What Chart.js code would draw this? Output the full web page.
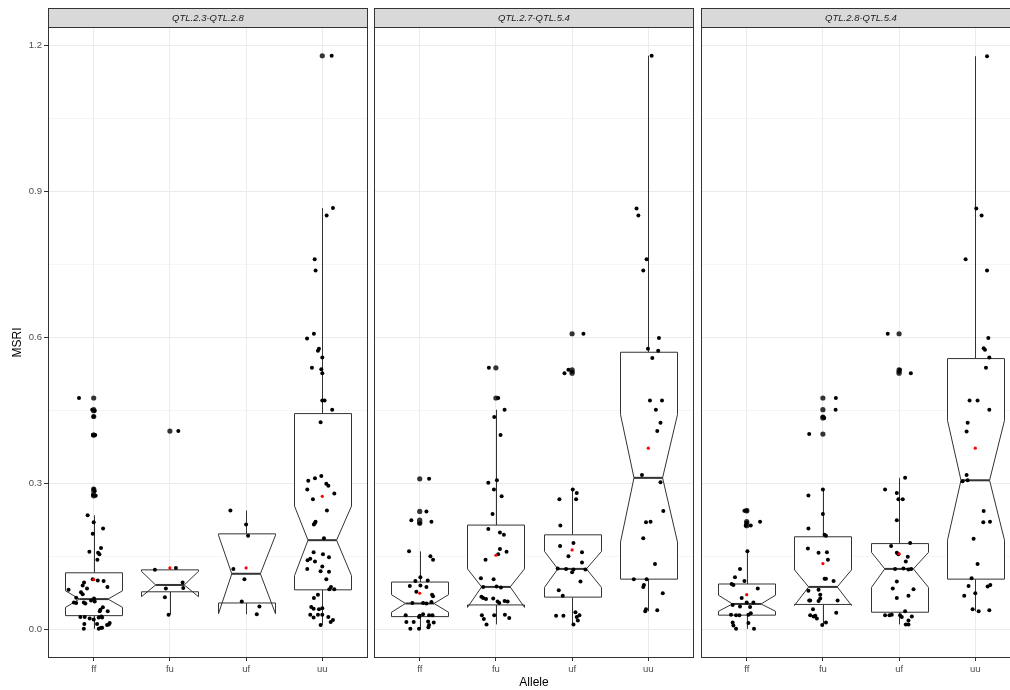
<!DOCTYPE html>
<html>
<head>
<meta charset="utf-8">
<script src="https://cdn.jsdelivr.net/npm/chart.js@4.4.1/dist/chart.umd.min.js"></script>
<style>
  html, body { margin: 0; padding: 0; background: #fff; }
  #fig { position: relative; width: 1010px; height: 690px; overflow: hidden; background: #fff; }
  #fig canvas { position: absolute; top: 0; }
</style>
</head>
<body>
<div id="fig">
  <canvas id="facet0"></canvas>
  <canvas id="facet1"></canvas>
  <canvas id="facet2"></canvas>
</div>
<script>
// ---- data -------------------------------------------------------------
const alleles = ['ff', 'fu', 'uf', 'uu'];
const facets = ['QTL.2.3-QTL.2.8', 'QTL.2.7-QTL.5.4', 'QTL.2.8-QTL.5.4'];
const yTicks = [0.0, 0.3, 0.6, 0.9, 1.2];

// notched box statistics: one row per facet, columns follow `alleles`
const whiskerLow  = [[0.002, 0.031, 0.032, 0.010], [0.002, 0.011, 0.011, 0.038], [0.002, 0.010, 0.011, 0.038]];
const lowerHinge  = [[0.029, 0.078, 0.055, 0.082], [0.027, 0.051, 0.067, 0.104], [0.030, 0.052, 0.036, 0.104]];
const medians     = [[0.063, 0.092, 0.115, 0.184], [0.054, 0.088, 0.125, 0.312], [0.053, 0.088, 0.125, 0.307]];
const upperHinge  = [[0.117, 0.123, 0.197, 0.444], [0.098, 0.215, 0.195, 0.570], [0.094, 0.191, 0.177, 0.557]];
const whiskerHigh = [[0.235, 0.127, 0.245, 0.866], [0.161, 0.452, 0.288, 1.179], [0.161, 0.289, 0.312, 1.178]];
const notchLow    = [[0.046, 0.068, 0.033, 0.111], [0.036, 0.046, 0.087, 0.180], [0.038, 0.050, 0.087, 0.184]];
const notchHigh   = [[0.080, 0.120, 0.194, 0.254], [0.072, 0.125, 0.161, 0.442], [0.071, 0.123, 0.159, 0.430]];
const means       = [[0.103, 0.127, 0.127, 0.274], [0.075, 0.153, 0.164, 0.373], [0.072, 0.136, 0.156, 0.373]];

// individual MSRI observations per allele, and their horizontal jitter (category units)
const valuesA = [
  [0.476,0.452,0.450,0.438,0.400,0.400,0.289,0.285,0.277,0.275,0.235,0.221,0.208,0.197,0.168,0.160,0.158,0.155,0.144,0.104,0.101,0.100,0.097,0.091,0.088,0.085,0.082,0.077,0.073,0.066,0.064,0.060,0.058,0.056,0.055,0.056,0.054,0.046,0.041,0.038,0.038,0.026,0.026,0.023,0.021,0.025,0.025,0.027,0.012,0.012,0.010,0.014,0.011,0.004,0.002,0.002,0.004],
  [0.408,0.127,0.123,0.097,0.086,0.085,0.067,0.031],
  [0.245,0.216,0.193,0.125,0.104,0.058,0.048,0.032],
  [1.179,0.866,0.851,0.761,0.738,0.608,0.598,0.577,0.573,0.559,0.538,0.535,0.527,0.471,0.471,0.452,0.426,0.316,0.311,0.306,0.300,0.296,0.288,0.280,0.268,0.245,0.222,0.219,0.216,0.188,0.159,0.155,0.149,0.146,0.143,0.140,0.130,0.125,0.120,0.119,0.104,0.088,0.083,0.083,0.072,0.065,0.047,0.043,0.044,0.042,0.031,0.025,0.031,0.031,0.026,0.020,0.016,0.010]
];
const jitterA = [
  [-0.193,-0.02,0.013,0,-0.01,0.02,0,0.013,-0.01,0.026,-0.08,0,0.123,-0.013,0.096,-0.057,0.057,0.075,0.048,-0.013,0.053,0.13,-0.127,-0.145,0.18,-0.088,-0.33,-0.167,-0.145,-0.23,0.004,-0.035,0.013,-0.26,-0.23,-0.13,-0.11,0.12,0.088,0.079,0.184,-0.175,-0.118,-0.053,0,0.066,0.11,0.1,-0.123,0.044,0.175,0.21,0.197,0.11,-0.13,0.066,0.096],
  [0.11,0.079,-0.197,0.167,0.175,-0.053,-0.066,-0.018],
  [-0.206,0,0.026,-0.167,-0.022,-0.057,0.175,0.14],
  [0.123,0.14,0.057,-0.10,-0.088,-0.11,-0.2,-0.044,-0.057,0,-0.136,-0.013,0,0,0.03,0.13,-0.022,-0.013,-0.096,-0.184,0.053,0.079,-0.197,0.158,-0.123,0.061,-0.088,-0.1,-0.11,0.022,-0.114,0.009,0.088,-0.158,-0.193,-0.096,0,-0.197,-0.022,0.088,0.053,0.114,0.092,0.158,-0.057,-0.11,-0.145,-0.114,0,-0.044,-0.158,-0.114,-0.057,0,0.079,0.14,0.11,-0.022]
];
const valuesB = [
  [0.310,0.243,0.225,0.222,0.219,0.161,0.151,0.144,0.108,0.100,0.101,0.090,0.091,0.088,0.072,0.069,0.078,0.055,0.055,0.054,0.057,0.030,0.029,0.032,0.030,0.030,0.026,0.016,0.016,0.017,0.015,0.010,0.002,0.002,0.005],
  [0.538,0.476,0.452,0.437,0.400,0.307,0.302,0.288,0.274,0.238,0.207,0.200,0.195,0.166,0.160,0.155,0.144,0.106,0.104,0.088,0.089,0.087,0.068,0.065,0.063,0.064,0.058,0.059,0.058,0.055,0.030,0.022,0.011,0.030,0.031,0.024],
  [0.608,0.534,0.527,0.530,0.288,0.281,0.268,0.268,0.214,0.178,0.172,0.159,0.151,0.138,0.126,0.125,0.124,0.124,0.118,0.099,0.081,0.070,0.029,0.029,0.036,0.030,0.026,0.019,0.011],
  [1.179,0.865,0.851,0.761,0.738,0.599,0.577,0.573,0.558,0.471,0.471,0.452,0.425,0.408,0.318,0.303,0.244,0.221,0.222,0.188,0.135,0.104,0.104,0.092,0.088,0.075,0.042,0.038,0.040]
];
const jitterB = [
  [0.123,0.088,-0.11,0.154,0,-0.14,0.14,0.175,0.009,-0.057,0.105,-0.13,0.009,0.088,0.162,0.175,-0.044,-0.096,0.044,0.088,0.154,-0.184,0,0.044,0.123,0.167,-0.009,-0.175,-0.079,0.11,0.184,0.123,-0.123,-0.009,0.114],
  [-0.092,0.03,0.114,-0.022,0.061,0.013,-0.1,-0.026,0.075,-0.044,-0.1,0.053,0.105,0.053,0.14,0.03,-0.136,-0.197,-0.03,-0.167,0.009,0.066,-0.19,-0.167,-0.13,-0.035,0.022,0.114,0.154,0.044,-0.184,-0.158,-0.123,-0.022,0.118,0.175],
  [0.149,-0.048,-0.1,0,0.009,0.061,-0.167,0.053,-0.154,0.018,-0.158,0.13,-0.048,0.13,-0.189,-0.079,0.175,0.018,0,0.11,-0.175,-0.123,-0.21,-0.114,0.044,0.096,0.061,0.075,0.018],
  [0.044,-0.154,-0.13,-0.022,-0.066,0.14,-0.004,0.13,0.053,0.022,0.18,0.1,0.16,0.118,-0.083,0.16,0.197,-0.03,0.03,-0.066,0.088,-0.19,-0.022,-0.057,-0.066,0.19,-0.03,-0.04,0.118]
];
const valuesC = [
  [0.2445,0.2445,0.222,0.220,0.214,0.214,0.161,0.125,0.108,0.100,0.094,0.092,0.085,0.065,0.051,0.048,0.056,0.056,0.047,0.031,0.030,0.030,0.031,0.034,0.015,0.009,0.014,0.002,0.002],
  [0.476,0.452,0.437,0.435,0.402,0.288,0.276,0.238,0.208,0.195,0.193,0.167,0.158,0.159,0.144,0.105,0.105,0.100,0.080,0.082,0.072,0.060,0.059,0.064,0.060,0.060,0.042,0.035,0.030,0.027,0.023,0.029,0.010,0.015],
  [0.608,0.530,0.527,0.534,0.312,0.288,0.281,0.268,0.268,0.225,0.178,0.172,0.158,0.155,0.150,0.140,0.125,0.126,0.124,0.125,0.099,0.085,0.083,0.070,0.065,0.038,0.030,0.030,0.031,0.030,0.026,0.019,0.027,0.011,0.011],
  [1.178,0.865,0.851,0.761,0.738,0.599,0.578,0.575,0.559,0.538,0.471,0.471,0.452,0.425,0.407,0.318,0.305,0.307,0.244,0.221,0.222,0.187,0.135,0.106,0.090,0.089,0.092,0.070,0.075,0.042,0.038,0.040]
];
const jitterC = [
  [-0.03,0,0.175,0,0.053,-0.013,0.009,-0.088,-0.154,-0.03,-0.197,-0.175,0.145,-0.066,-0.184,-0.088,0,0.088,0.044,-0.206,-0.14,-0.096,0.022,0.053,-0.184,-0.175,0.022,-0.14,0.096],
  [0.17,0.167,0,0.018,-0.18,0,-0.19,0,-0.19,0.022,0.04,-0.197,-0.057,0.053,0.066,0.022,0.04,0.14,-0.19,-0.057,-0.035,-0.167,-0.057,-0.035,-0.18,0.193,-0.13,0.175,-0.167,-0.123,-0.079,-0.1,-0.009,0.04],
  [-0.149,0,0.154,0.01,0.079,-0.184,-0.03,-0.009,0.048,-0.03,0.145,-0.105,-0.03,-0.009,0.114,0.088,-0.053,0.057,0.123,0.158,-0.03,-0.083,0.189,0.123,-0.03,0.079,-0.184,-0.127,-0.096,0.013,0.035,0.123,0.167,0.088,0.123],
  [0.154,0.013,0.083,-0.127,0.154,0.171,0.11,0.127,0.184,0.14,-0.075,0.03,0.184,-0.1,-0.114,-0.114,-0.167,-0.1,0.11,0.105,0.193,-0.022,0.03,-0.048,-0.088,0.162,0.197,-0.145,0,-0.035,0.044,0.184]
];

const facetValues = [valuesA, valuesB, valuesC];
const facetJitter = [jitterA, jitterB, jitterC];

// ---- appearance -------------------------------------------------------
const FONT = "'Liberation Sans', Arial, Helvetica, sans-serif";
const INK = '#333333';
const GRID = '#EBEBEB';
const BOX_HALF = 0.375;            // boxes are 0.75 category units wide
const NOTCH_INDENT = 0.1875;       // notch narrows the box to half its width
const Y_MIN = -0.058, Y_MAX = 1.238;
const X_MIN = 0.4, X_MAX = 4.6;

// panel geometry: plot-area left edge of each facet, shared width
const panelLeft = [48, 374, 701];
const PANEL_W = 320;
const PLOT_TOP = 27, STRIP_TOP = 8;
const X_AXIS_H = 32;

const minorTicks = yTicks.slice(1).map((v, i) => (v + yTicks[i]) / 2);
const isMajor = v => yTicks.some(t => Math.abs(t - v) < 1e-9);

Chart.defaults.font.family = FONT;

// draws whiskers, notched boxes and medians from the statistics arrays
const notchedBoxes = {
  id: 'notchedBoxes',
  beforeDatasetsDraw(chart, args, opts) {
    const f = opts.facet;
    const { ctx, chartArea: ca } = chart;
    const x = chart.scales.x, y = chart.scales.y;
    const crisp = v => Math.round(v) + 0.5;
    ctx.save();
    ctx.beginPath();
    ctx.rect(ca.left, ca.top, ca.right - ca.left, ca.bottom - ca.top);
    ctx.clip();
    ctx.strokeStyle = INK;
    ctx.lineJoin = 'miter';
    alleles.forEach((name, i) => {
      const c = i + 1;
      const xc = crisp(x.getPixelForValue(c));
      const xl = crisp(x.getPixelForValue(c - BOX_HALF));
      const xr = crisp(x.getPixelForValue(c + BOX_HALF));
      const nl = x.getPixelForValue(c - BOX_HALF + NOTCH_INDENT);
      const nr = x.getPixelForValue(c + BOX_HALF - NOTCH_INDENT);
      const yq1 = y.getPixelForValue(lowerHinge[f][i]);
      const yq3 = y.getPixelForValue(upperHinge[f][i]);
      const ymd = y.getPixelForValue(medians[f][i]);
      const ynl = y.getPixelForValue(notchLow[f][i]);
      const ynh = y.getPixelForValue(notchHigh[f][i]);
      const ywl = y.getPixelForValue(whiskerLow[f][i]);
      const ywh = y.getPixelForValue(whiskerHigh[f][i]);

      // whiskers
      ctx.lineWidth = 1;
      ctx.beginPath();
      ctx.moveTo(xc, yq3); ctx.lineTo(xc, ywh);
      ctx.moveTo(xc, yq1); ctx.lineTo(xc, ywl);
      ctx.stroke();

      // notched box
      ctx.beginPath();
      ctx.moveTo(xl, yq3);
      ctx.lineTo(xl, ynh);
      ctx.lineTo(nl, ymd);
      ctx.lineTo(xl, ynl);
      ctx.lineTo(xl, yq1);
      ctx.lineTo(xr, yq1);
      ctx.lineTo(xr, ynl);
      ctx.lineTo(nr, ymd);
      ctx.lineTo(xr, ynh);
      ctx.lineTo(xr, yq3);
      ctx.closePath();
      ctx.fillStyle = '#FFFFFF';
      ctx.fill();
      ctx.stroke();

      // median
      ctx.lineWidth = 2;
      ctx.beginPath();
      ctx.moveTo(nl, ymd); ctx.lineTo(nr, ymd);
      ctx.stroke();
    });
    ctx.restore();
  }
};

// facet strip on top and the panel border around the plot area
const facetFrame = {
  id: 'facetFrame',
  afterDraw(chart, args, opts) {
    const { ctx, chartArea: ca } = chart;
    const l = Math.round(ca.left) + 0.5, r = Math.round(ca.right) - 0.5;
    const t = Math.round(ca.top) + 0.5, b = Math.round(ca.bottom) - 0.5;
    ctx.save();
    ctx.fillStyle = '#D9D9D9';
    ctx.fillRect(l, STRIP_TOP + 0.5, r - l, t - STRIP_TOP - 0.5);
    ctx.strokeStyle = INK;
    ctx.lineWidth = 1;
    ctx.strokeRect(l, STRIP_TOP + 0.5, r - l, t - STRIP_TOP - 0.5);
    ctx.strokeRect(l, t, r - l, b - t);
    ctx.fillStyle = '#1A1A1A';
    ctx.font = 'italic 9.5px ' + FONT;
    ctx.textAlign = 'center';
    ctx.textBaseline = 'middle';
    ctx.fillText(opts.label, (l + r) / 2, (STRIP_TOP + t) / 2 + 0.5);
    ctx.restore();
  }
};

function buildFacet(f) {
  const withAxis = f === 0;
  const padLeft = withAxis ? 10 : 4;
  const axisW = withAxis ? panelLeft[0] - padLeft : 0;
  const canvas = document.getElementById('facet' + f);
  const left = panelLeft[f] - (withAxis ? panelLeft[0] : 4);
  const width = (withAxis ? panelLeft[0] : 4) + PANEL_W + 4;
  canvas.width = width; canvas.height = 690;
  canvas.style.left = left + 'px';
  canvas.style.width = width + 'px';
  canvas.style.height = '690px';

  const values = facetValues[f], jitter = facetJitter[f];
  const jittered = [], outliers = [];
  values.forEach((list, i) => {
    list.forEach((v, k) => {
      jittered.push({ x: i + 1 + jitter[i][k], y: v });
      if (v > whiskerHigh[f][i] + 1e-9 || v < whiskerLow[f][i] - 1e-9) outliers.push({ x: i + 1, y: v });
    });
  });
  const meanPts = means[f].map((m, i) => ({ x: i + 1, y: m }));

  return new Chart(canvas, {
    type: 'scatter',
    data: {
      datasets: [
        { label: 'outliers', data: outliers, order: 3, pointRadius: 2.6, pointBackgroundColor: '#333333', pointBorderWidth: 0 },
        { label: 'MSRI', data: jittered, order: 2, pointRadius: 2, pointBackgroundColor: '#000000', pointBorderWidth: 0 },
        { label: 'mean', data: meanPts, order: 1, pointRadius: 1.6, pointBackgroundColor: '#FF0000', pointBorderWidth: 0 }
      ]
    },
    options: {
      responsive: false,
      animation: false,
      events: [],
      devicePixelRatio: 1,
      layout: { padding: { left: padLeft, right: 4, top: PLOT_TOP, bottom: 0 } },
      plugins: {
        legend: { display: false },
        tooltip: { enabled: false },
        notchedBoxes: { facet: f },
        facetFrame: { label: facets[f] }
      },
      scales: {
        x: {
          type: 'linear',
          min: X_MIN, max: X_MAX,
          afterBuildTicks: s => { s.ticks = alleles.map((a, i) => ({ value: i + 1 })); },
          afterFit: s => { s.height = X_AXIS_H; },
          border: { display: false },
          grid: { color: GRID, lineWidth: 1, tickColor: INK, tickLength: 3 },
          ticks: {
            autoSkip: false, maxRotation: 0, padding: 3,
            color: '#4D4D4D', font: { size: 9.5, family: FONT },
            callback: v => alleles[Math.round(v) - 1]
          },
          title: {
            display: f === 1, text: 'Allele', color: '#000000',
            font: { size: 12, family: FONT }, padding: { top: 0, bottom: 0 }
          }
        },
        y: {
          type: 'linear',
          min: Y_MIN, max: Y_MAX,
          afterBuildTicks: s => {
            s.ticks = yTicks.concat(minorTicks).sort((a, b) => a - b).map(v => ({ value: v }));
          },
          afterFit: s => { s.width = axisW; },
          border: { display: false },
          grid: {
            drawTicks: withAxis,
            tickLength: 4,
            color: GRID,
            lineWidth: c => (c.tick && isMajor(c.tick.value)) ? 1 : 0.5,
            tickColor: c => (c.tick && isMajor(c.tick.value)) ? INK : 'rgba(0,0,0,0)'
          },
          ticks: {
            display: withAxis, autoSkip: false, padding: 2,
            color: '#4D4D4D', font: { size: 9.5, family: FONT },
            callback: v => isMajor(v) ? v.toFixed(1) : ''
          },
          title: {
            display: withAxis, text: 'MSRI', color: '#000000',
            font: { size: 12, family: FONT }, padding: { top: 0, bottom: 0 }
          }
        }
      }
    },
    plugins: [notchedBoxes, facetFrame]
  });
}

facets.forEach((name, f) => buildFacet(f));
</script>
</body>
</html>
